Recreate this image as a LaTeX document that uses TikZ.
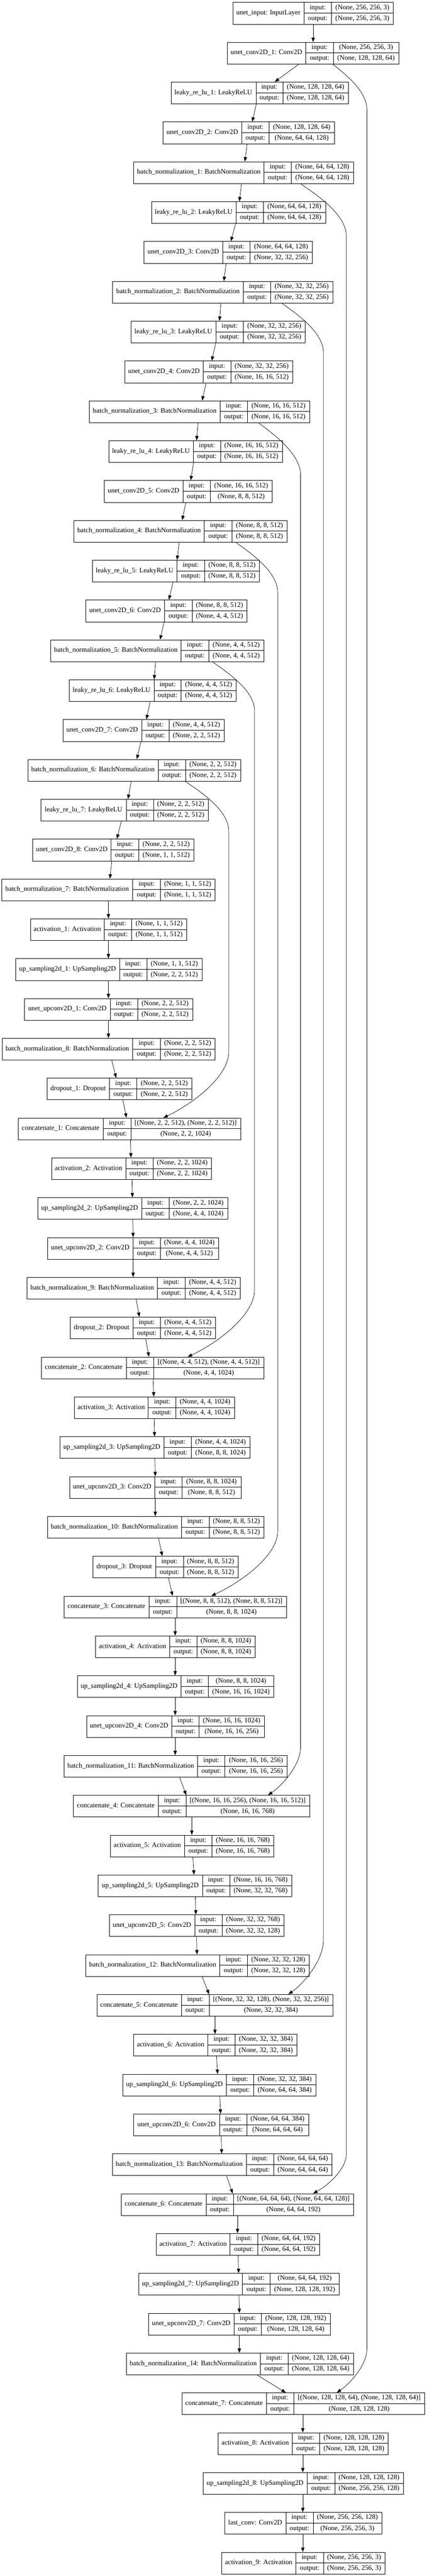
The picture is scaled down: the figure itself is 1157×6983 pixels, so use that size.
\documentclass[tikz,border=0pt]{standalone}
\usepackage{fontspec}
\setmainfont{Liberation Serif}
\usetikzlibrary{arrows.meta}
\tikzset{
  boxframe/.style={draw, line width=1pt, minimum height=59pt, inner sep=0pt},
  cellline/.style={line width=1pt},
  txt/.style={font=\fontsize{18.67}{22}\selectfont, inner sep=0pt, text height=13pt, text depth=4pt},
  arr/.style={line width=1pt, -{Triangle[length=12pt,width=9pt]}}
}
\newcommand\layerbox[9]{%
  \pgfmathsetmacro\lyt{6+108*(#2-1)}%
  \pgfmathsetmacro\lyb{\lyt+59}%
  \pgfmathsetmacro\lym{\lyt+29.5}%
  \pgfmathsetmacro\lyi{\lyt+14.75}%
  \pgfmathsetmacro\lyo{\lyt+44.25}%
  \pgfmathsetmacro\lw{#6-#3}%
  \node[boxframe, minimum width=\lw pt, anchor=north west] (#1) at (#3,\lyt) {};
  \draw[cellline] (#4,\lyt) -- (#4,\lyb) (#5,\lyt) -- (#5,\lyb) (#4,\lym) -- (#6,\lym);
  \node[txt] (#1-l) at ({(#3+#4)/2},\lym) {#7};
  \node[txt] (#1-i) at ({(#4+#5)/2},\lyi) {input:};
  \node[txt] (#1-o) at ({(#4+#5)/2},\lyo) {output:};
  \node[txt] (#1-iv) at ({(#5+#6)/2},\lyi) {#8};
  \node[txt] (#1-ov) at ({(#5+#6)/2},\lyo) {#9};
}
\begin{document}
\begin{tikzpicture}[x=1pt,y=-1pt]
\fill[white] (0,0) rectangle (1157,6983);
\useasboundingbox (0,0) rectangle (1157,6983);
\layerbox{b1}{1}{631}{824}{899}{1066}{unet\_input: InputLayer}{(None, 256, 256, 3)}{(None, 256, 256, 3)}
\layerbox{b2}{2}{616}{829}{904}{1081}{unet\_conv2D\_1: Conv2D}{(None, 256, 256, 3)}{(None, 128, 128, 64)}
\layerbox{b3}{3}{463}{694}{767}{944}{leaky\_re\_lu\_1: LeakyReLU}{(None, 128, 128, 64)}{(None, 128, 128, 64)}
\layerbox{b4}{4}{442}{655}{730}{906}{unet\_conv2D\_2: Conv2D}{(None, 128, 128, 64)}{(None, 64, 64, 128)}
\layerbox{b5}{5}{362}{716}{790}{958}{batch\_normalization\_1: BatchNormalization}{(None, 64, 64, 128)}{(None, 64, 64, 128)}
\layerbox{b6}{6}{410}{640}{714}{882}{leaky\_re\_lu\_2: LeakyReLU}{(None, 64, 64, 128)}{(None, 64, 64, 128)}
\layerbox{b7}{7}{390}{604}{678}{846}{unet\_conv2D\_3: Conv2D}{(None, 64, 64, 128)}{(None, 32, 32, 256)}
\layerbox{b8}{8}{305}{660}{734}{902}{batch\_normalization\_2: BatchNormalization}{(None, 32, 32, 256)}{(None, 32, 32, 256)}
\layerbox{b9}{9}{355}{585}{660}{827}{leaky\_re\_lu\_3: LeakyReLU}{(None, 32, 32, 256)}{(None, 32, 32, 256)}
\layerbox{b10}{10}{338}{551}{626}{793}{unet\_conv2D\_4: Conv2D}{(None, 32, 32, 256)}{(None, 16, 16, 512)}
\layerbox{b11}{11}{242}{597}{671}{839}{batch\_normalization\_3: BatchNormalization}{(None, 16, 16, 512)}{(None, 16, 16, 512)}
\layerbox{b12}{12}{294}{524}{598}{765}{leaky\_re\_lu\_4: LeakyReLU}{(None, 16, 16, 512)}{(None, 16, 16, 512)}
\layerbox{b13}{13}{282}{496}{570}{738}{unet\_conv2D\_5: Conv2D}{(None, 16, 16, 512)}{(None, 8, 8, 512)}
\layerbox{b14}{14}{200}{554}{629}{778}{batch\_normalization\_4: BatchNormalization}{(None, 8, 8, 512)}{(None, 8, 8, 512)}
\layerbox{b15}{15}{250}{480}{555}{703}{leaky\_re\_lu\_5: LeakyReLU}{(None, 8, 8, 512)}{(None, 8, 8, 512)}
\layerbox{b16}{16}{232}{446}{521}{669}{unet\_conv2D\_6: Conv2D}{(None, 8, 8, 512)}{(None, 4, 4, 512)}
\layerbox{b17}{17}{137}{491}{566}{715}{batch\_normalization\_5: BatchNormalization}{(None, 4, 4, 512)}{(None, 4, 4, 512)}
\layerbox{b18}{18}{187}{418}{491}{640}{leaky\_re\_lu\_6: LeakyReLU}{(None, 4, 4, 512)}{(None, 4, 4, 512)}
\layerbox{b19}{19}{170}{384}{458}{607}{unet\_conv2D\_7: Conv2D}{(None, 4, 4, 512)}{(None, 2, 2, 512)}
\layerbox{b20}{20}{75}{429}{503}{652}{batch\_normalization\_6: BatchNormalization}{(None, 2, 2, 512)}{(None, 2, 2, 512)}
\layerbox{b21}{21}{111}{342}{416}{564}{leaky\_re\_lu\_7: LeakyReLU}{(None, 2, 2, 512)}{(None, 2, 2, 512)}
\layerbox{b22}{22}{88}{301}{376}{525}{unet\_conv2D\_8: Conv2D}{(None, 2, 2, 512)}{(None, 1, 1, 512)}
\layerbox{b23}{23}{4}{360}{435}{583}{batch\_normalization\_7: BatchNormalization}{(None, 1, 1, 512)}{(None, 1, 1, 512)}
\layerbox{b24}{24}{82}{283}{357}{506}{activation\_1: Activation}{(None, 1, 1, 512)}{(None, 1, 1, 512)}
\layerbox{b25}{25}{42}{324}{398}{547}{up\_sampling2d\_1: UpSampling2D}{(None, 1, 1, 512)}{(None, 2, 2, 512)}
\layerbox{b26}{26}{66}{299}{373}{522}{unet\_upconv2D\_1: Conv2D}{(None, 2, 2, 512)}{(None, 2, 2, 512)}
\layerbox{b27}{27}{5}{360}{435}{583}{batch\_normalization\_8: BatchNormalization}{(None, 2, 2, 512)}{(None, 2, 2, 512)}
\layerbox{b28}{28}{127}{297}{371}{520}{dropout\_1: Dropout}{(None, 2, 2, 512)}{(None, 2, 2, 512)}
\layerbox{b29}{29}{49}{280}{355}{652}{concatenate\_1: Concatenate}{[(None, 2, 2, 512), (None, 2, 2, 512)]}{(None, 2, 2, 1024)}
\layerbox{b30}{30}{139}{341}{415}{573}{activation\_2: Activation}{(None, 2, 2, 1024)}{(None, 2, 2, 1024)}
\layerbox{b31}{31}{102}{384}{458}{617}{up\_sampling2d\_2: UpSampling2D}{(None, 2, 2, 1024)}{(None, 4, 4, 1024)}
\layerbox{b32}{32}{128}{361}{435}{592}{unet\_upconv2D\_2: Conv2D}{(None, 4, 4, 1024)}{(None, 4, 4, 512)}
\layerbox{b33}{33}{73}{427}{502}{651}{batch\_normalization\_9: BatchNormalization}{(None, 4, 4, 512)}{(None, 4, 4, 512)}
\layerbox{b34}{34}{190}{361}{435}{584}{dropout\_2: Dropout}{(None, 4, 4, 512)}{(None, 4, 4, 512)}
\layerbox{b35}{35}{112}{342}{417}{715}{concatenate\_2: Concatenate}{[(None, 4, 4, 512), (None, 4, 4, 512)]}{(None, 4, 4, 1024)}
\layerbox{b36}{36}{201}{402}{477}{635}{activation\_3: Activation}{(None, 4, 4, 1024)}{(None, 4, 4, 1024)}
\layerbox{b37}{37}{162}{444}{519}{677}{up\_sampling2d\_3: UpSampling2D}{(None, 4, 4, 1024)}{(None, 8, 8, 1024)}
\layerbox{b38}{38}{188}{420}{494}{653}{unet\_upconv2D\_3: Conv2D}{(None, 8, 8, 1024)}{(None, 8, 8, 512)}
\layerbox{b39}{39}{128}{492}{567}{715}{batch\_normalization\_10: BatchNormalization}{(None, 8, 8, 512)}{(None, 8, 8, 512)}
\layerbox{b40}{40}{252}{422}{497}{645}{dropout\_3: Dropout}{(None, 8, 8, 512)}{(None, 8, 8, 512)}
\layerbox{b41}{41}{173}{404}{479}{776}{concatenate\_3: Concatenate}{[(None, 8, 8, 512), (None, 8, 8, 512)]}{(None, 8, 8, 1024)}
\layerbox{b42}{42}{259}{460}{534}{691}{activation\_4: Activation}{(None, 8, 8, 1024)}{(None, 8, 8, 1024)}
\layerbox{b43}{43}{209}{491}{565}{742}{up\_sampling2d\_4: UpSampling2D}{(None, 8, 8, 1024)}{(None, 16, 16, 1024)}
\layerbox{b44}{44}{234}{466}{540}{716}{unet\_upconv2D\_4: Conv2D}{(None, 16, 16, 1024)}{(None, 16, 16, 256)}
\layerbox{b45}{45}{173}{536}{610}{778}{batch\_normalization\_11: BatchNormalization}{(None, 16, 16, 256)}{(None, 16, 16, 256)}
\layerbox{b46}{46}{199}{429}{504}{839}{concatenate\_4: Concatenate}{[(None, 16, 16, 256), (None, 16, 16, 512)]}{(None, 16, 16, 768)}
\layerbox{b47}{47}{299}{500}{575}{742}{activation\_5: Activation}{(None, 16, 16, 768)}{(None, 16, 16, 768)}
\layerbox{b48}{48}{266}{549}{623}{790}{up\_sampling2d\_5: UpSampling2D}{(None, 16, 16, 768)}{(None, 32, 32, 768)}
\layerbox{b49}{49}{296}{528}{602}{770}{unet\_upconv2D\_5: Conv2D}{(None, 32, 32, 768)}{(None, 32, 32, 128)}
\layerbox{b50}{50}{232}{596}{671}{838}{batch\_normalization\_12: BatchNormalization}{(None, 32, 32, 128)}{(None, 32, 32, 128)}
\layerbox{b51}{51}{262}{492}{567}{902}{concatenate\_5: Concatenate}{[(None, 32, 32, 128), (None, 32, 32, 256)]}{(None, 32, 32, 384)}
\layerbox{b52}{52}{362}{563}{638}{804}{activation\_6: Activation}{(None, 32, 32, 384)}{(None, 32, 32, 384)}
\layerbox{b53}{53}{332}{614}{688}{856}{up\_sampling2d\_6: UpSampling2D}{(None, 32, 32, 384)}{(None, 64, 64, 384)}
\layerbox{b54}{54}{362}{595}{669}{836}{unet\_upconv2D\_6: Conv2D}{(None, 64, 64, 384)}{(None, 64, 64, 64)}
\layerbox{b55}{55}{304}{668}{742}{900}{batch\_normalization\_13: BatchNormalization}{(None, 64, 64, 64)}{(None, 64, 64, 64)}
\layerbox{b56}{56}{328}{559}{633}{958}{concatenate\_6: Concatenate}{[(None, 64, 64, 64), (None, 64, 64, 128)]}{(None, 64, 64, 192)}
\layerbox{b57}{57}{423}{624}{699}{866}{activation\_7: Activation}{(None, 64, 64, 192)}{(None, 64, 64, 192)}
\layerbox{b58}{58}{376}{657}{733}{919}{up\_sampling2d\_7: UpSampling2D}{(None, 64, 64, 192)}{(None, 128, 128, 192)}
\layerbox{b59}{59}{402}{635}{709}{895}{unet\_upconv2D\_7: Conv2D}{(None, 128, 128, 192)}{(None, 128, 128, 64)}
\layerbox{b60}{60}{342}{706}{781}{958}{batch\_normalization\_14: BatchNormalization}{(None, 128, 128, 64)}{(None, 128, 128, 64)}
\layerbox{b61}{61}{493}{722}{797}{1151}{concatenate\_7: Concatenate}{[(None, 128, 128, 64), (None, 128, 128, 64)]}{(None, 128, 128, 128)}
\layerbox{b62}{62}{591}{793}{867}{1052}{activation\_8: Activation}{(None, 128, 128, 128)}{(None, 128, 128, 128)}
\layerbox{b63}{63}{550}{833}{908}{1093}{up\_sampling2d\_8: UpSampling2D}{(None, 128, 128, 128)}{(None, 256, 256, 128)}
\layerbox{b64}{64}{609}{775}{849}{1035}{last\_conv: Conv2D}{(None, 256, 256, 128)}{(None, 256, 256, 3)}
\layerbox{b65}{65}{601}{802}{877}{1043}{activation\_9: Activation}{(None, 256, 256, 3)}{(None, 256, 256, 3)}
% main chain
\foreach \a/\b/\xa/\xb in {1/2/849/849, 2/3/810/745, 3/4/695/684, 4/5/670/664, 5/6/655/649,
  6/7/639/626, 7/8/613/607, 8/9/599/595, 9/10/585/574, 10/11/559/548, 11/12/537/533,
  12/13/525/517, 13/14/504/494, 14/15/486/480, 15/16/469/458, 16/17/445/434,
  17/18/422/418, 18/19/407/397, 19/20/382/371, 20/21/356/347, 21/22/329/317, 22/23/303/298,
  23/24/294/294, 24/25/294/294, 25/26/294/294, 26/27/294/294, 27/28/303/315, 28/29/333/343,
  29/30/354/355, 30/31/358/359, 31/32/360/361, 32/33/361/361, 33/34/369/378, 34/35/395/404,
  35/36/415/417, 36/37/418/419, 37/38/420/421, 38/39/421/421, 39/40/430/440, 40/41/457/468,
  41/42/475/475, 42/43/475/475, 43/44/475/475, 44/45/475/475, 45/46/487/505,
  46/47/520/520, 47/48/523/526, 48/49/530/531, 49/50/533/534, 50/51/548/567,
  51/52/583/583, 52/53/587/590, 53/54/596/598, 54/55/600/601, 55/56/614/631,
  56/57/644/644, 57/58/646/647, 58/59/648/649, 59/60/649/649, 60/61/697/775,
  61/62/821/821, 62/63/821/821, 63/64/821/821, 64/65/821/821}
  \draw[arr] (b\a.south -| \xa,0) -- (b\b.north -| \xb,0);
% skip connections
\draw[arr] (b2.south -| 902,0) .. controls (932,198) and (995,245) .. (995,298)
  -- (995,6367) .. controls (995,6412) and (948,6462) .. (b61.north -| 913,0);
\draw[arr] (b5.south -| 815,0) .. controls (855,526) and (939,580) .. (939,640)
  -- (939,5840) .. controls (939,5880) and (888,5925) .. (b56.north -| 849,0);
\draw[arr] (b8.south -| 764,0) .. controls (800,848) and (877,899) .. (877,956)
  -- (877,5259) .. controls (877,5315) and (823,5377) .. (b51.north -| 782,0);
\draw[arr] (b11.south -| 701,0) .. controls (737,1174) and (815,1228) .. (815,1288)
  -- (815,4736) .. controls (815,4785) and (765,4840) .. (b46.north -| 727,0);
\draw[arr] (b14.south -| 639,0) .. controls (675,1496) and (753,1548) .. (753,1606)
  -- (753,4151) .. controls (753,4218) and (650,4291) .. (b41.north -| 573,0);
\draw[arr] (b17.south -| 576,0) .. controls (612,1820) and (690,1870) .. (690,1926)
  -- (690,3497) .. controls (690,3566) and (587,3642) .. (b35.north -| 509,0);
\draw[arr] (b20.south -| 502,0) .. controls (540,2144) and (620,2195) .. (620,2252)
  -- (620,2852) .. controls (620,2920) and (519,2994) .. (b29.north -| 443,0);
\end{tikzpicture}
\end{document}
